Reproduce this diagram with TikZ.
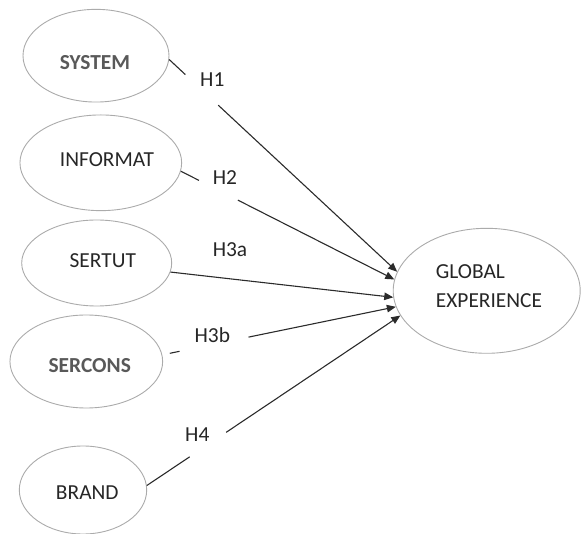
\documentclass[tikz,border=0pt]{standalone}
\usepackage{fontspec}
\setmainfont{Carlito}
\usetikzlibrary{calc,arrows.meta,shapes.geometric}
\definecolor{ringgray}{HTML}{ABABAB}
\definecolor{linegray}{HTML}{2B2B2B}
\definecolor{txtdark}{HTML}{262626}
\definecolor{txtbold}{HTML}{595959}
\begin{document}
\begin{tikzpicture}[x=1pt,y=-1pt,
  ring/.style={ellipse, draw=ringgray, line width=0.9pt, inner sep=0pt},
  lbl/.style={inner sep=0pt, font=\fontsize{21.4}{29}\selectfont, text=txtdark, text height=13.8pt, text depth=0pt},
  boldlbl/.style={lbl, font=\fontsize{21.4}{29}\selectfont\bfseries, text=txtbold},
  conn/.style={draw=linegray, line width=1.1pt},
  arr/.style={conn, -{Triangle[length=9pt,width=7.5pt]}}
]
\useasboundingbox (0,0) rectangle (581,534);
% ellipses
\node[ring, minimum width=146pt, minimum height=92.7pt] (sys) at (96,55.7) {};
\node[ring, minimum width=161.7pt, minimum height=95.7pt] (inf) at (100.8,162.8) {};
\node[ring, minimum width=150pt, minimum height=86pt] (stut) at (96.7,263) {};
\node[ring, minimum width=152.7pt, minimum height=93pt] (scons) at (86.3,361.5) {};
\node[ring, minimum width=127.4pt, minimum height=88pt] (brand) at (83,490) {};
\node[ring, minimum width=187pt, minimum height=125pt] (glob) at (486.7,290.8) {};
% texts
\node[boldlbl] (tsys) at (95,62.5) {SYSTEM};
\node[lbl] (tinf) at (107,160) {INFORMAT};
\node[lbl] (tstut) at (102.8,260.8) {SERTUT};
\node[boldlbl] (tscons) at (89.7,366) {SERCONS};
\node[lbl] (tbrand) at (87.3,492.3) {BRAND};
\node[lbl, anchor=base west] (tglob1) at (435.7,278.3) {GLOBAL};
\node[lbl, anchor=base west] (tglob2) at (435.7,307.3) {EXPERIENCE};
% hypothesis labels
\node[lbl] (h1) at (212.3,79.5) {H1};
\node[lbl] (h2) at (225,177.3) {H2};
\node[lbl] (h3a) at (230,250) {H3a};
\node[lbl] (h3b) at (212.3,335.7) {H3b};
\node[lbl] (h4) at (197.3,434.3) {H4};
% connectors
\draw[conn] (sys.-3) -- ($(sys.-3)!0.071!(glob.168)$);
\draw[arr] ($(sys.-3)!0.215!(glob.168)$) -- (glob.168);
\draw[conn] (inf.-6.5) -- ($(inf.-6.5)!0.085!(glob.173)$);
\draw[arr] ($(inf.-6.5)!0.267!(glob.173)$) -- (glob.173);
\draw[arr] (stut.-7) -- (glob.184);
\draw[conn] ($(scons.5)!0.032!(glob.190)$) -- ($(scons.5)!0.074!(glob.190)$);
\draw[arr] ($(scons.5)!0.369!(glob.190)$) -- (glob.190);
\draw[conn] (brand.4.5) -- ($(brand.4.5)!0.169!(glob.196)$);
\draw[arr] ($(brand.4.5)!0.313!(glob.196)$) -- (glob.196);
\end{tikzpicture}
\end{document}
